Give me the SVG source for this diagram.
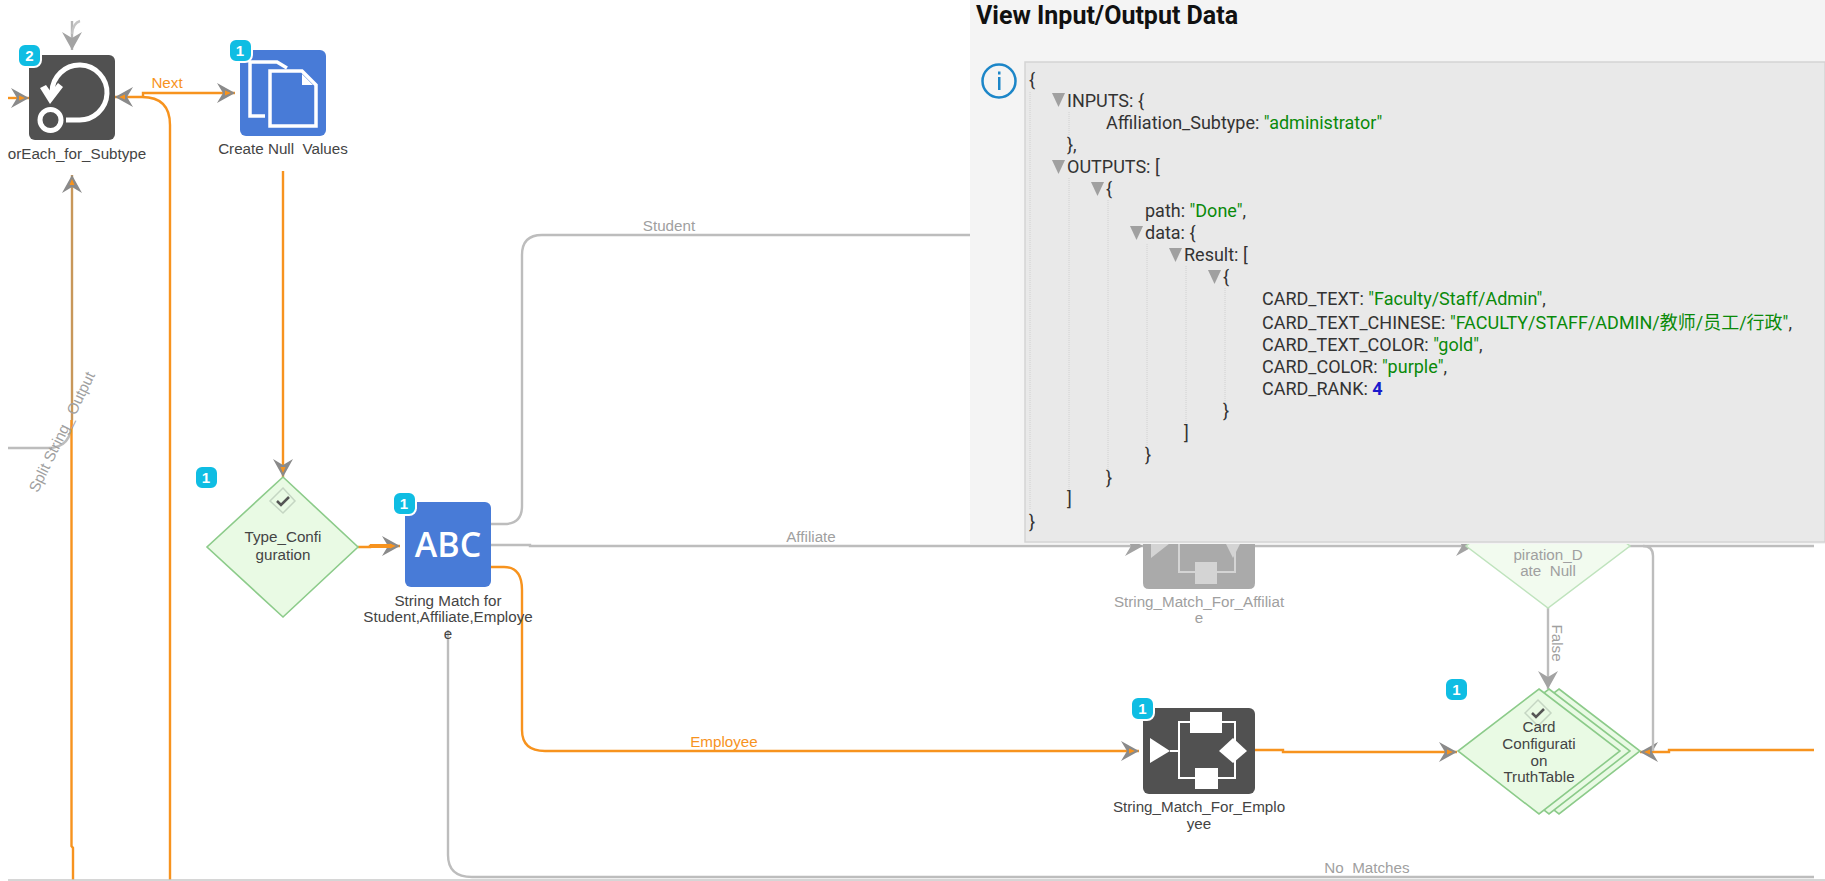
<svg xmlns="http://www.w3.org/2000/svg" xmlns:xlink="http://www.w3.org/1999/xlink" width="1825" height="881" viewBox="0 0 1825 881">
<style>
.c{fill:none;stroke-width:2.4}
.g{stroke:#bdbdbd}
.o{stroke:#f7931e}
.l{font:15.2px "Liberation Sans",Arial,sans-serif;fill:#444;text-anchor:middle}
.cl{font:15.2px "Liberation Sans",Arial,sans-serif;fill:#a0a0a0;text-anchor:middle;white-space:pre}
.ol{font:15.2px "Liberation Sans",Arial,sans-serif;fill:#f7931e;text-anchor:middle}
.b{fill:#0fbde3;stroke:#fff;stroke-width:2}
.bt{font:bold 15px "Liberation Sans",Arial,sans-serif;fill:#fff;text-anchor:middle}
.d{fill:#e9fae4;stroke:#8ccb8a;stroke-width:1.6}
.w{fill:#fff}
.wl{fill:none;stroke:#fff;stroke-width:2}
.j{font:18px Roboto,"Noto Sans CJK SC",sans-serif;fill:#333}
.s{fill:#0a8a0a}
.n{fill:#1a1acc;font-weight:bold}
.gd{stroke:#d0d0d0;stroke-width:1;stroke-dasharray:1 1}
</style>
<defs>
<marker id="ag" markerUnits="userSpaceOnUse" markerWidth="20" markerHeight="22" refX="18" refY="10" orient="auto"><path d="M18 10L0 0L6 10L0 20Z" fill="#a3a3a3"/></marker>
<marker id="ao" markerUnits="userSpaceOnUse" markerWidth="20" markerHeight="22" refX="18" refY="10" orient="auto"><path d="M18 10L0 0L6 10L0 20Z" fill="#8a8a8a"/><path d="M14 10L8 7.5V12.5Z" fill="#f7931e"/></marker>
<polygon id="tri" points="0,0 13,0 6.5,14" fill="#a0a0a0"/>
</defs>
<rect width="1825" height="881" fill="#fff"/>
<g id="connectors">
<path class="c g" d="M8 448H48Q72 448 72 420"/>
<path class="c" stroke="#c8975a" stroke-width="3" d="M72 420V175" marker-end="url(#ao)"/>
<path class="c o" d="M73 880V848L71.500 846V420"/>
<path class="c o" d="M170 880V125Q170 97 142 97H115" marker-end="url(#ao)"/>
<path class="c o" d="M143 97V93H235" marker-end="url(#ao)"/>
<path class="c o" d="M8 98H29" marker-end="url(#ao)"/>
<path class="c" stroke="#b5b5b5" d="M72 21V50" marker-end="url(#ag)"/>
<path class="c" stroke="#c4c4c4" d="M80 21Q73 23 72 34"/>
<path class="c o" d="M283 171V477" marker-end="url(#ao)"/>
<path class="c o" d="M358 547H370V546H400" marker-end="url(#ao)"/>
<path class="o" stroke-width="4" d="M370 546H392"/>
<path class="c g" d="M491 524H504Q522 524 522 506V255Q522 235 542 235H971"/>
<path class="c g" d="M491 545H530V546H1143" marker-end="url(#ag)"/>
<path class="c g" d="M1255 546H1474" marker-end="url(#ag)"/>
<path class="c g" d="M1625 546H1814"/>
<path class="c o" d="M491 567H504Q522 567 522 590V730Q522 751 545 751H1139" marker-end="url(#ao)"/>
<path class="c o" d="M1255 750H1283V752H1457" marker-end="url(#ao)"/>
<path class="c o" d="M1814 750H1669V752H1640" marker-end="url(#ao)"/>
<path class="c g" d="M448 630V855Q448 877 472 877H1814"/>
<path class="c g" d="M1643 546Q1653 546 1653 556V751"/>
<path class="c g" d="M1548 608V689" marker-end="url(#ag)"/>
<path d="M8 880H1825" fill="none" stroke="#c8c8c8" stroke-width="1.500"/>
<text class="ol" x="167" y="88">Next</text>
<text class="cl" x="669" y="231">Student</text>
<text class="cl" x="811" y="542">Affiliate</text>
<text class="ol" x="724" y="747">Employee</text>
<text class="cl" x="1367" y="873" xml:space="preserve">No  Matches</text>
<text class="cl" transform="translate(1552 643) rotate(90)" y="0">False</text>
<text class="cl" transform="translate(62 432) rotate(-64)" y="5">Split String_ Output</text>
</g>
<g id="foreach">
<rect x="29" y="55" width="86" height="85" rx="6" fill="#515151"/>
<path d="M52 92A27.500 27.500 0 1 1 78 120H66" fill="none" stroke="#fff" stroke-width="5"/>
<polygon points="40,88 46,85 51,92 58,83 63,87 50,104" fill="#fff"/>
<circle cx="50.500" cy="120" r="10.500" fill="none" stroke="#fff" stroke-width="5"/>
<rect class="b" x="18" y="44" width="23" height="23" rx="7"/>
<text class="bt" x="29.500" y="60.500">2</text>
<text class="l" x="77" y="159">orEach_for_Subtype</text>
</g>
<g id="create">
<rect x="240" y="50" width="86" height="86" rx="6" fill="#487bd7"/>
<path d="M265 116H250V62H277L287 68" fill="none" stroke="#fff" stroke-width="3.500"/>
<path d="M270 71H302L316 85V126H270Z" fill="none" stroke="#fff" stroke-width="3.500"/>
<path d="M302 74L313 85H302Z" fill="#fff"/>
<rect class="b" x="229" y="39" width="23" height="23" rx="7"/>
<text class="bt" x="240" y="55.500">1</text>
<text class="l" x="283" y="154" xml:space="preserve">Create Null  Values</text>
</g>
<g id="type_config">
<polygon class="d" points="283,477 358,547 283,617 207,547"/>
<polygon points="283,488 295,501 283,513 270,501" fill="none" stroke="#c5d6c3" stroke-width="1.500"/>
<path d="M277 501L281 505L289 497" fill="none" stroke="#555" stroke-width="2.500"/>
<rect class="b" x="195" y="466" width="23" height="23" rx="7"/>
<text class="bt" x="206" y="482.500">1</text>
<text class="l" x="283" y="542">Type_Confi</text>
<text class="l" x="283" y="560">guration</text>
</g>
<g id="string_match">
<rect x="405" y="502" width="86" height="85" rx="6" fill="#487bd7"/>
<text x="448" y="557" font-family="Open Sans,sans-serif" font-weight="600" font-size="34" fill="#fff" text-anchor="middle">ABC</text>
<rect class="b" x="393" y="492" width="23" height="23" rx="7"/>
<text class="bt" x="404" y="508.500">1</text>
<text class="l" x="448" y="606">String Match for</text>
<text class="l" x="448" y="622">Student,Affiliate,Employe</text>
<text class="l" x="448" y="639">e</text>
</g>
<g id="string_match_affiliate">
<path d="M1143 530H1255V583Q1255 589 1249 589H1149Q1143 589 1143 583Z" fill="#aaa"/>
<polygon points="1151,530 1174,540 1151,558" fill="#d4d4d4"/>
<polygon points="1219,530 1247,530 1233,558" fill="#d4d4d4"/>
<path d="M1179 530V572H1235V530" fill="none" stroke="#d4d4d4" stroke-width="2"/>
<rect x="1195" y="562" width="22" height="22" fill="#d4d4d4"/>
<text class="cl" x="1199" y="607">String_Match_For_Affiliat</text>
<text class="cl" x="1199" y="623">e</text>
</g>
<g id="expiration">
<polygon points="1548,484 1630,546 1548,608 1466,546" fill="#f2fbef" stroke="#bfe3bd" stroke-width="1.500"/>
<text class="cl" x="1548" y="560">piration_D</text>
<text class="cl" x="1548" y="576" xml:space="preserve">ate  Null</text>
</g>
<g id="string_match_employee">
<rect x="1143" y="708" width="112" height="86" rx="6" fill="#515151"/>
<path class="wl" d="M1170 751H1179M1179 722V778H1235V722ZM1235 751H1240"/>
<polygon class="w" points="1150,738 1170,751 1150,763"/>
<rect class="w" x="1190" y="712" width="32" height="21"/>
<rect class="w" x="1195" y="768" width="23" height="21"/>
<polygon class="w" points="1233,738 1247,751 1233,763 1219,751"/>
<rect class="b" x="1131" y="697" width="23" height="23" rx="7"/>
<text class="bt" x="1142.500" y="713.500">1</text>
<text class="l" x="1199" y="812">String_Match_For_Emplo</text>
<text class="l" x="1199" y="829">yee</text>
</g>
<g id="card_config">
<polygon class="d" points="1559,689 1640,751 1559,814 1478,751"/>
<polygon class="d" points="1549,689 1630,751 1549,814 1468,751"/>
<polygon class="d" points="1539,689 1620,751 1539,814 1458,751"/>
<polygon points="1538,700 1551,713 1538,726 1525,713" fill="none" stroke="#c5d6c3" stroke-width="1.500"/>
<path d="M1532 713L1536 717L1544 709" fill="none" stroke="#555" stroke-width="2.500"/>
<rect class="b" x="1445" y="678" width="23" height="23" rx="7"/>
<text class="bt" x="1456.500" y="694.500">1</text>
<text class="l" x="1539" y="732">Card</text>
<text class="l" x="1539" y="749">Configurati</text>
<text class="l" x="1539" y="766">on</text>
<text class="l" x="1539" y="782">TruthTable</text>
</g>
<g id="panel">
<rect x="970" y="0" width="855" height="544" fill="#f4f4f4"/>
<rect x="1025" y="62" width="800" height="480" fill="#e9e9e9" stroke="#d4d4d4" stroke-width="1.500"/>
<text x="976" y="24" font-family="Roboto,sans-serif" font-weight="bold" font-size="25" fill="#111">View Input/Output Data</text>
<circle cx="999" cy="81" r="16.500" fill="none" stroke="#1c86c8" stroke-width="2.500"/>
<rect x="998" y="77" width="2.500" height="13" fill="#1c86c8"/>
<rect x="998" y="71.500" width="2.500" height="3" fill="#1c86c8"/>
<path class="gd" d="M1030 92V510M1069 112V135M1069 178V490M1108 200V470M1147 244V445M1186 266V425M1225 288V403"/>
<use xlink:href="#tri" x="1052" y="93"/>
<use xlink:href="#tri" x="1052" y="160"/>
<use xlink:href="#tri" x="1091" y="182"/>
<use xlink:href="#tri" x="1130" y="226"/>
<use xlink:href="#tri" x="1169" y="248"/>
<use xlink:href="#tri" x="1208" y="270"/>
<text class="j" x="1029" y="86">{</text>
<text class="j" x="1067" y="107">INPUTS: {</text>
<text class="j" x="1106" y="129">Affiliation_Subtype: <tspan class="s">"administrator"</tspan></text>
<text class="j" x="1067" y="151">},</text>
<text class="j" x="1067" y="173">OUTPUTS: [</text>
<text class="j" x="1106" y="195">{</text>
<text class="j" x="1145" y="217">path: <tspan class="s">"Done"</tspan>,</text>
<text class="j" x="1145" y="239">data: {</text>
<text class="j" x="1184" y="261">Result: [</text>
<text class="j" x="1223" y="283">{</text>
<text class="j" x="1262" y="305">CARD_TEXT: <tspan class="s">"Faculty/Staff/Admin"</tspan>,</text>
<text class="j" x="1262" y="329">CARD_TEXT_CHINESE: <tspan class="s">"FACULTY/STAFF/ADMIN/教师/员工/行政"</tspan>,</text>
<text class="j" x="1262" y="351">CARD_TEXT_COLOR: <tspan class="s">"gold"</tspan>,</text>
<text class="j" x="1262" y="373">CARD_COLOR: <tspan class="s">"purple"</tspan>,</text>
<text class="j" x="1262" y="395">CARD_RANK: <tspan class="n">4</tspan></text>
<text class="j" x="1223" y="417">}</text>
<text class="j" x="1184" y="439">]</text>
<text class="j" x="1145" y="461">}</text>
<text class="j" x="1106" y="484">}</text>
<text class="j" x="1067" y="505">]</text>
<text class="j" x="1029" y="528">}</text>
</g>
</svg>
